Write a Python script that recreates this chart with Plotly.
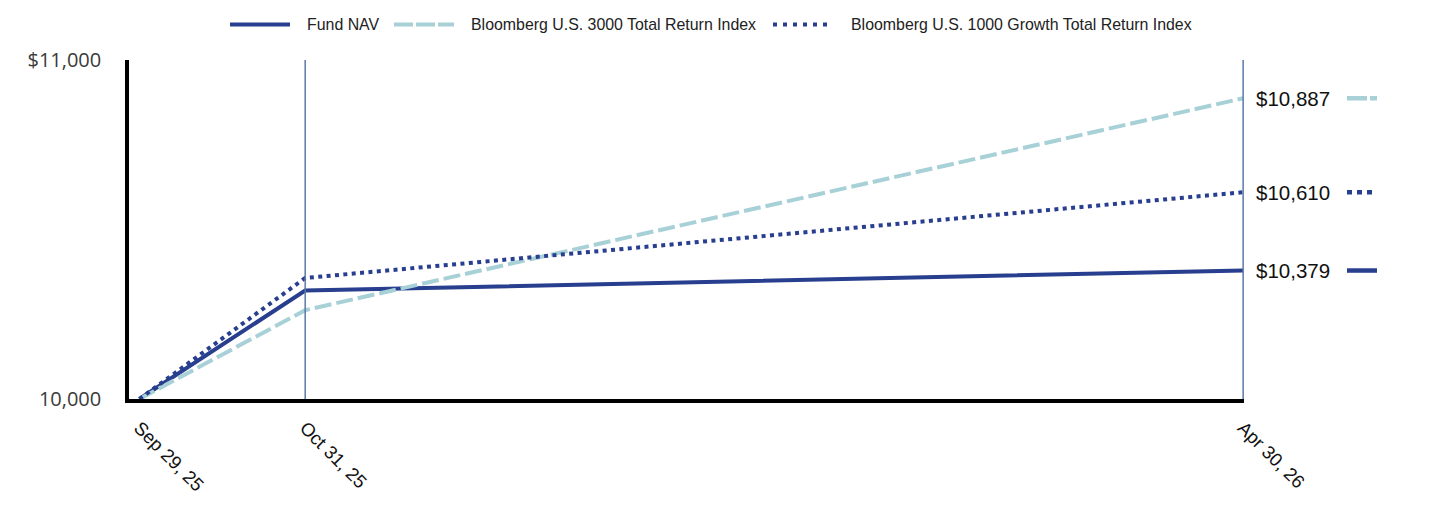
import plotly.graph_objects as go

# ---- data ----
dates = ["2025-09-29", "2025-10-31", "2026-04-30"]
date_labels = ["Sep 29, 25", "Oct 31, 25", "Apr 30, 26"]
fund_nav = [10000, 10320, 10379]
us3000 = [10000, 10262, 10887]
growth1000 = [10000, 10357, 10610]
series_names = ["Fund NAV", "Bloomberg U.S. 3000 Total Return Index",
                "Bloomberg U.S. 1000 Growth Total Return Index"]
y_ticks = [10000, 11000]
y_tick_text = ["10,000", "$11,000"]

# ---- styles ----
DARK = "#283e8e"
LIGHT = "#a7d0d7"
GRID = "#5a7aa6"
W, H = 1436, 526
ML, MR, MT, MB = 129, 192, 60, 127
PW = W - ML - MR
PH = H - MT - MB

def px(p):
    return (p - ML) / PW

def py(q):
    return (H - MB - q) / PH

styles = [
    dict(color=DARK, width=4, dash="solid"),
    dict(color=LIGHT, width=4, dash="17px,5px"),
    dict(color=DARK, width=4, dash="4px,4.4px"),
]
values = [fund_nav, us3000, growth1000]

fig = go.Figure()
for name, vals, st in zip(series_names, values, styles):
    fig.add_trace(go.Scatter(x=dates, y=vals, mode="lines", name=name,
                             line=st, showlegend=False, hoverinfo="skip"))

# vertical grid lines at later dates
for d in dates[1:]:
    fig.add_shape(type="line", xref="x", yref="paper", x0=d, x1=d, y0=0, y1=1,
                  line=dict(color=GRID, width=1.5), layer="above")

# end labels and swatches
seg_styles = [
    dict(color=DARK, width=4.5, dash="solid"),
    dict(color=LIGHT, width=4.5, dash="20px,3px"),
    dict(color=DARK, width=4.5, dash="5px,5px"),
]
for vals, st in zip(values, seg_styles):
    v = vals[-1]
    fig.add_annotation(x=1, xref="paper", y=v, yref="y", text=f"${v:,}",
                       showarrow=False, xanchor="left", yanchor="middle", xshift=10,
                       font=dict(family="Liberation Sans", size=20.5, color="#111"))
    fig.add_shape(type="line", xref="paper", yref="y",
                  x0=px(1347), x1=px(1377), y0=v, y1=v, line=st)

# custom legend
leg_styles = [
    dict(color=DARK, width=4, dash="solid"),
    dict(color=LIGHT, width=4, dash="19px,3px"),
    dict(color=DARK, width=4, dash="4px,6px"),
]
leg_lines = [(230, 290, 305), (394, 454, 469), (773, 829, 849)]
ly = py(24.5)
for name, st, (x0, x1, tx) in zip(series_names, leg_styles, leg_lines):
    fig.add_shape(type="line", xref="paper", yref="paper", x0=px(x0), x1=px(x1),
                  y0=ly, y1=ly, line=st)
    fig.add_annotation(x=px(tx), xref="paper", y=ly, yref="paper", text=name,
                       showarrow=False, xanchor="left", yanchor="middle",
                       font=dict(family="Liberation Sans", size=15.9, color="#222"))

fig.update_layout(
    width=W, height=H,
    margin=dict(l=ML, r=MR, t=MT, b=MB, pad=0),
    paper_bgcolor="white", plot_bgcolor="white",
    showlegend=False,
    xaxis=dict(
        type="date",
        range=["2025-09-27", "2026-04-30 04:00"],
        tickvals=dates, ticktext=date_labels,
        tickangle=45, showgrid=False, zeroline=False,
        showline=True, linecolor="black", linewidth=3.5,
        ticks="", ticklabelstandoff=7,
        tickfont=dict(family="Liberation Sans", size=18.5, color="#111"),
    ),
    yaxis=dict(
        range=[10000, 11000],
        tickvals=y_ticks, ticktext=y_tick_text,
        showgrid=False, zeroline=False,
        showline=True, linecolor="black", linewidth=3.5,
        ticks="", ticklabelstandoff=20,
        tickfont=dict(family="Open Sans", size=20, color="#3a3a3a"),
    ),
)

fig.write_html("out.html")
